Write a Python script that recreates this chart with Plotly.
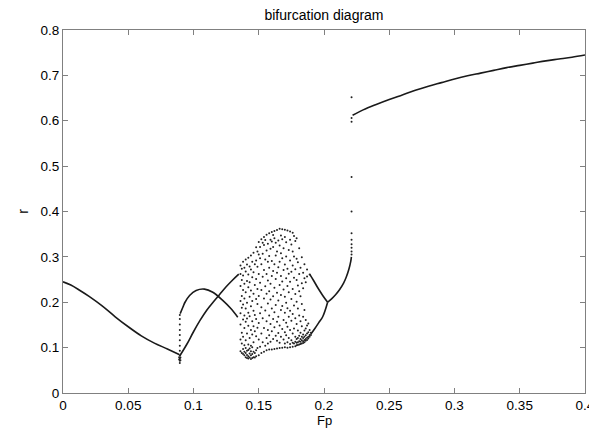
import plotly.graph_objects as go

# ---- data ----
# period-1 branch (decreasing), Fp 0 -> 0.089
b1_fp = [0.0, 0.006, 0.013, 0.02, 0.03, 0.04, 0.05, 0.06, 0.07, 0.08, 0.089]
b1_r = [0.245, 0.238, 0.226, 0.213, 0.192, 0.168, 0.146, 0.126, 0.110, 0.097, 0.085]

# upper arc after 0.09
b2_fp = [0.0898, 0.092, 0.0935, 0.097, 0.102, 0.1084, 0.1148, 0.1224, 0.1288, 0.1339]
b2_r = [0.175, 0.190, 0.200, 0.215, 0.226, 0.229, 0.222, 0.204, 0.1855, 0.167]

# rising branch after 0.09
b3_fp = [0.0893, 0.095, 0.100, 0.105, 0.110, 0.115, 0.120, 0.125, 0.130, 0.1347]
b3_r = [0.081, 0.108, 0.135, 0.160, 0.182, 0.200, 0.217, 0.234, 0.249, 0.262]

# dots of the transient near Fp = 0.09
t1_fp = [0.0895] * 12 + [0.089, 0.089, 0.090, 0.090]
t1_r = [0.066, 0.071, 0.076, 0.083, 0.093, 0.104, 0.116, 0.128, 0.139, 0.151, 0.163, 0.172,
        0.074, 0.079, 0.072, 0.078]

# chaotic cloud: Fp columns and r values in each
cloud_fp = [0.136, 0.137, 0.138, 0.139, 0.140, 0.141, 0.142, 0.143, 0.144, 0.145,
            0.146, 0.147, 0.148, 0.149, 0.150, 0.151, 0.152, 0.153, 0.154, 0.155,
            0.156, 0.157, 0.158, 0.159, 0.160, 0.161, 0.162, 0.163, 0.164, 0.165,
            0.166, 0.167, 0.168, 0.169, 0.170, 0.171, 0.172, 0.173, 0.174, 0.175,
            0.176, 0.177, 0.178, 0.179, 0.180, 0.181, 0.182, 0.183, 0.184, 0.185,
            0.186, 0.187, 0.188, 0.189, 0.190]
cloud_r = [
    [0.092, 0.118, 0.151, 0.176, 0.203, 0.236, 0.262, 0.281],
    [0.088, 0.109, 0.133, 0.188, 0.214, 0.249, 0.274],
    [0.086, 0.097, 0.124, 0.162, 0.195, 0.227, 0.259, 0.289],
    [0.083, 0.091, 0.105, 0.143, 0.171, 0.208, 0.241, 0.276],
    [0.079, 0.088, 0.099, 0.116, 0.157, 0.186, 0.222, 0.268, 0.294],
    [0.077, 0.084, 0.093, 0.131, 0.164, 0.199, 0.247, 0.283],
    [0.076, 0.081, 0.095, 0.107, 0.148, 0.177, 0.233, 0.261, 0.298],
    [0.078, 0.087, 0.098, 0.121, 0.169, 0.212, 0.244, 0.279],
    [0.075, 0.083, 0.092, 0.104, 0.139, 0.191, 0.226, 0.272, 0.303],
    [0.077, 0.086, 0.101, 0.129, 0.158, 0.203, 0.255, 0.289],
    [0.079, 0.091, 0.112, 0.147, 0.181, 0.219, 0.266, 0.309],
    [0.078, 0.088, 0.136, 0.172, 0.238, 0.284],
    [0.081, 0.094, 0.125, 0.163, 0.207, 0.251, 0.292, 0.321],
    [0.099, 0.144, 0.196, 0.229, 0.278, 0.312],
    [0.083, 0.118, 0.154, 0.214, 0.262, 0.305, 0.333],
    [0.102, 0.176, 0.243, 0.297, 0.322],
    [0.088, 0.131, 0.189, 0.227, 0.284, 0.339],
    [0.112, 0.165, 0.256, 0.307, 0.331],
    [0.091, 0.143, 0.208, 0.271, 0.326, 0.344],
    [0.104, 0.182, 0.235, 0.294, 0.337],
    [0.094, 0.121, 0.158, 0.219, 0.262, 0.314, 0.349],
    [0.109, 0.139, 0.197, 0.248, 0.289, 0.329],
    [0.096, 0.127, 0.171, 0.224, 0.276, 0.302, 0.352],
    [0.113, 0.152, 0.206, 0.241, 0.318, 0.338],
    [0.096, 0.136, 0.186, 0.258, 0.291, 0.334, 0.355],
    [0.119, 0.163, 0.213, 0.269, 0.322, 0.348],
    [0.097, 0.145, 0.178, 0.232, 0.284, 0.341, 0.357],
    [0.126, 0.194, 0.251, 0.303, 0.331],
    [0.098, 0.115, 0.157, 0.221, 0.265, 0.312, 0.359],
    [0.132, 0.168, 0.204, 0.277, 0.336],
    [0.099, 0.111, 0.149, 0.238, 0.289, 0.325, 0.362],
    [0.124, 0.183, 0.216, 0.258, 0.308, 0.347],
    [0.100, 0.141, 0.192, 0.246, 0.297, 0.339, 0.361],
    [0.118, 0.161, 0.228, 0.271, 0.319],
    [0.101, 0.109, 0.134, 0.177, 0.212, 0.283, 0.344, 0.360],
    [0.127, 0.155, 0.199, 0.253, 0.301, 0.332],
    [0.100, 0.112, 0.146, 0.187, 0.236, 0.274, 0.358],
    [0.121, 0.168, 0.222, 0.263, 0.315],
    [0.101, 0.108, 0.139, 0.181, 0.245, 0.292, 0.338, 0.356],
    [0.116, 0.159, 0.207, 0.267, 0.327],
    [0.102, 0.111, 0.131, 0.174, 0.229, 0.281, 0.312, 0.353],
    [0.109, 0.142, 0.193, 0.254, 0.301, 0.346],
    [0.103, 0.113, 0.124, 0.165, 0.218, 0.273, 0.335],
    [0.105, 0.111, 0.119, 0.152, 0.201, 0.249, 0.296, 0.341],
    [0.106, 0.112, 0.121, 0.138, 0.186, 0.237, 0.288],
    [0.107, 0.114, 0.126, 0.171, 0.224, 0.262, 0.319],
    [0.108, 0.113, 0.119, 0.133, 0.158, 0.213, 0.276],
    [0.109, 0.116, 0.124, 0.147, 0.196, 0.242, 0.299],
    [0.110, 0.114, 0.121, 0.129, 0.168, 0.231, 0.265],
    [0.112, 0.117, 0.124, 0.138, 0.183, 0.253, 0.284],
    [0.115, 0.119, 0.127, 0.142, 0.161, 0.244],
    [0.117, 0.122, 0.131, 0.149, 0.257, 0.272],
    [0.120, 0.124, 0.134, 0.153],
    [0.124, 0.128, 0.139, 0.261],
    [0.128, 0.133],
]

# period-2 branches leaving the cloud
p2u_fp = [0.189, 0.192, 0.195, 0.199, 0.2028]
p2u_r = [0.262, 0.248, 0.233, 0.215, 0.200]
p2l_fp = [0.190, 0.193, 0.196, 0.199, 0.2028]
p2l_r = [0.130, 0.142, 0.155, 0.168, 0.200]

# single branch up to the jump
s_fp = [0.2028, 0.206, 0.209, 0.212, 0.215, 0.217, 0.219, 0.2205, 0.221]
s_r = [0.200, 0.208, 0.217, 0.228, 0.242, 0.255, 0.272, 0.290, 0.300]

# dots at the jump
j_fp = [0.2211] * 11
j_r = [0.305, 0.312, 0.320, 0.328, 0.338, 0.352, 0.400, 0.476, 0.598, 0.606, 0.652]

# upper branch after the jump
u_fp = [0.2219, 0.23, 0.24, 0.25, 0.26, 0.27, 0.28, 0.29, 0.30, 0.31, 0.32, 0.33,
        0.34, 0.35, 0.36, 0.37, 0.38, 0.39, 0.40]
u_r = [0.612, 0.624, 0.636, 0.647, 0.657, 0.667, 0.676, 0.684, 0.692, 0.699, 0.705,
       0.711, 0.717, 0.722, 0.727, 0.732, 0.736, 0.740, 0.745]

x_ticks = [0, 0.05, 0.1, 0.15, 0.2, 0.25, 0.3, 0.35, 0.4]
x_labels = ["0", "0.05", "0.1", "0.15", "0.2", "0.25", "0.3", "0.35", "0.4"]
y_ticks = [0, 0.1, 0.2, 0.3, 0.4, 0.5, 0.6, 0.7, 0.8]
y_labels = ["0", "0.1", "0.2", "0.3", "0.4", "0.5", "0.6", "0.7", "0.8"]

# ---- figure ----
line_style = dict(color="#1a1a1a", width=1.6)
dot_style = dict(color="#222222", size=2.0)

fig = go.Figure()
for fx, fy in [(b1_fp, b1_r), (b2_fp, b2_r), (b3_fp, b3_r), (p2u_fp, p2u_r),
               (p2l_fp, p2l_r), (s_fp, s_r), (u_fp, u_r)]:
    fig.add_trace(go.Scatter(x=fx, y=fy, mode="lines", line=line_style,
                             line_shape="spline", hoverinfo="skip"))

cx, cy = [], []
for f, rs in zip(cloud_fp, cloud_r):
    for rv in rs:
        cx.append(f)
        cy.append(rv)
for fx, fy in [(t1_fp, t1_r), (cx, cy), (j_fp, j_r)]:
    fig.add_trace(go.Scatter(x=fx, y=fy, mode="markers", marker=dot_style))

axis_common = dict(showline=True, linecolor="#808080", linewidth=1, mirror="ticks",
                   ticks="inside", ticklen=5, tickcolor="#808080", showgrid=False,
                   zeroline=False, automargin=False, ticklabeloverflow="allow",
                   tickfont=dict(size=13.5, color="black"))

# the page body adds an 8 px offset, so the figure is 8 px smaller
fig.update_layout(
    width=589, height=420,
    paper_bgcolor="white", plot_bgcolor="white",
    showlegend=False,
    margin=dict(l=55, r=12, t=22, b=35),
    font=dict(family="Liberation Sans, Arial, sans-serif", size=14, color="black"),
    title=dict(text="bifurcation diagram", x=0.5, xref="paper", y=0.983,
               yref="container", yanchor="middle", font=dict(size=14)),
    xaxis=dict(range=[0, 0.4], tickvals=x_ticks, ticktext=x_labels, **axis_common),
    yaxis=dict(range=[0, 0.8], tickvals=y_ticks, ticktext=y_labels,
               title=dict(text="r", standoff=8, font=dict(size=14)), **axis_common),
    annotations=[dict(text="Fp", x=0.5, xref="paper", y=-0.077, yref="paper",
                      xanchor="center", yanchor="middle", showarrow=False,
                      font=dict(size=13))],
)

fig.write_html("out.html")
